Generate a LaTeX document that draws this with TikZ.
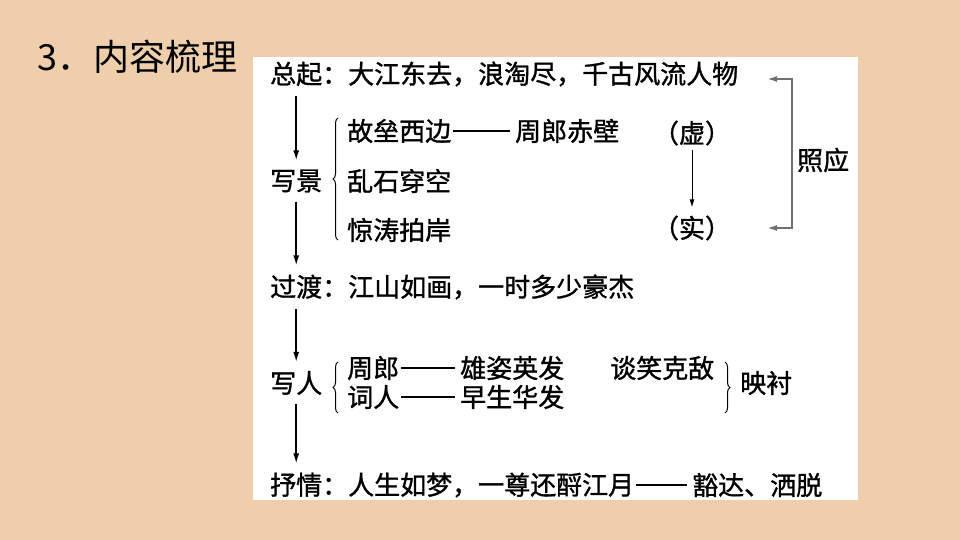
\documentclass[tikz,border=0pt]{standalone}
\usepackage{fontspec}
\newfontfamily\cjk{Noto Sans CJK SC}
\newfontfamily\cjkb[FakeBold=1.2]{Noto Sans CJK SC}
\usetikzlibrary{arrows.meta,decorations.pathreplacing}
\definecolor{paper}{RGB}{239,206,171}
\definecolor{linkgray}{RGB}{112,112,112}
\begin{document}
\begin{tikzpicture}[x=1pt, y=-1pt,
    every node/.style={font=\cjkb\fontsize{26}{30}\selectfont, inner sep=0pt, anchor=west},
    flow/.style={line width=1.5pt, -{Latex[length=10pt,width=6pt]}, shorten <=9pt, shorten >=9pt},
    dashline/.style={line width=1.3pt, shorten <=2pt, shorten >=5pt},
    bracel/.style={decorate, decoration={brace, amplitude=5pt}, line width=1pt}]
    \path[use as bounding box] (0,0) rectangle (960,540);
    \fill[paper] (0,0) rectangle (960,540);
    \fill[white] (253,57) rectangle (858,500);

    \node[font=\cjk\fontsize{36}{40}\selectfont] (title) at (37,57) {3．内容梳理};

    \node (top) at (270,74) {总起：大江东去，浪淘尽，千古风流人物};
    \node (xiejing) at (270,181) {写景};
    \node (gulei) at (347,131) {故垒西边};
    \node (chibi) at (515,131) {周郎赤壁};
    \node (luanshi) at (347,181) {乱石穿空};
    \node (jingtao) at (347,230) {惊涛拍岸};
    \node[anchor=center] (xu) at (692,133) {（虚）};
    \node[anchor=center] (shi) at (692,228) {（实）};
    \node (zhaoying) at (797,160) {照应};
    \node (guodu) at (270,287) {过渡：江山如画，一时多少豪杰};
    \node (xieren) at (270,383) {写人};
    \node (zhoulang) at (347,368) {周郎};
    \node (xiongzi) at (460,368) {雄姿英发};
    \node (ciren) at (347,397) {词人};
    \node (zaosheng) at (460,397) {早生华发};
    \node (tanxiao) at (610,368) {谈笑克敌};
    \node (yingchen) at (740,383) {映衬};
    \node (shuqing) at (270,485) {抒情：人生如梦，一尊还酹江月};
    \node (huoda) at (692,485) {豁达、洒脱};

    \coordinate (zt) at (767,79);
    \coordinate (zb) at (767,228);

    \draw[flow] (xiejing.north |- top.south) -- (xiejing.north);
    \draw[flow] (xiejing.south) -- (xiejing.south |- guodu.north);
    \draw[flow] (xieren.north |- guodu.south) -- (xieren.north);
    \draw[flow] (xieren.south) -- (xieren.south |- shuqing.north);
    \draw[line width=0.9pt, -{Latex[length=8pt,width=5pt]}, shorten <=4pt, shorten >=8pt] (xu) -- (shi);
    \draw[linkgray, line width=1.8pt, {Latex[length=10pt,width=6pt]}-{Latex[length=10pt,width=6pt]}] (zt) -- (792,79) -- (792,228) -- (zb);

    \draw[dashline] (gulei) -- (chibi);
    \draw[dashline] (zhoulang) -- (xiongzi);
    \draw[dashline] (ciren) -- (zaosheng);
    \draw[dashline] (shuqing) -- (huoda);

    \draw[bracel] (338,240) -- (338,118);
    \draw[bracel] (338,413) -- (338,362);
    \draw[bracel] (725,362) -- (725,413);
    \end{tikzpicture}
\end{document}
